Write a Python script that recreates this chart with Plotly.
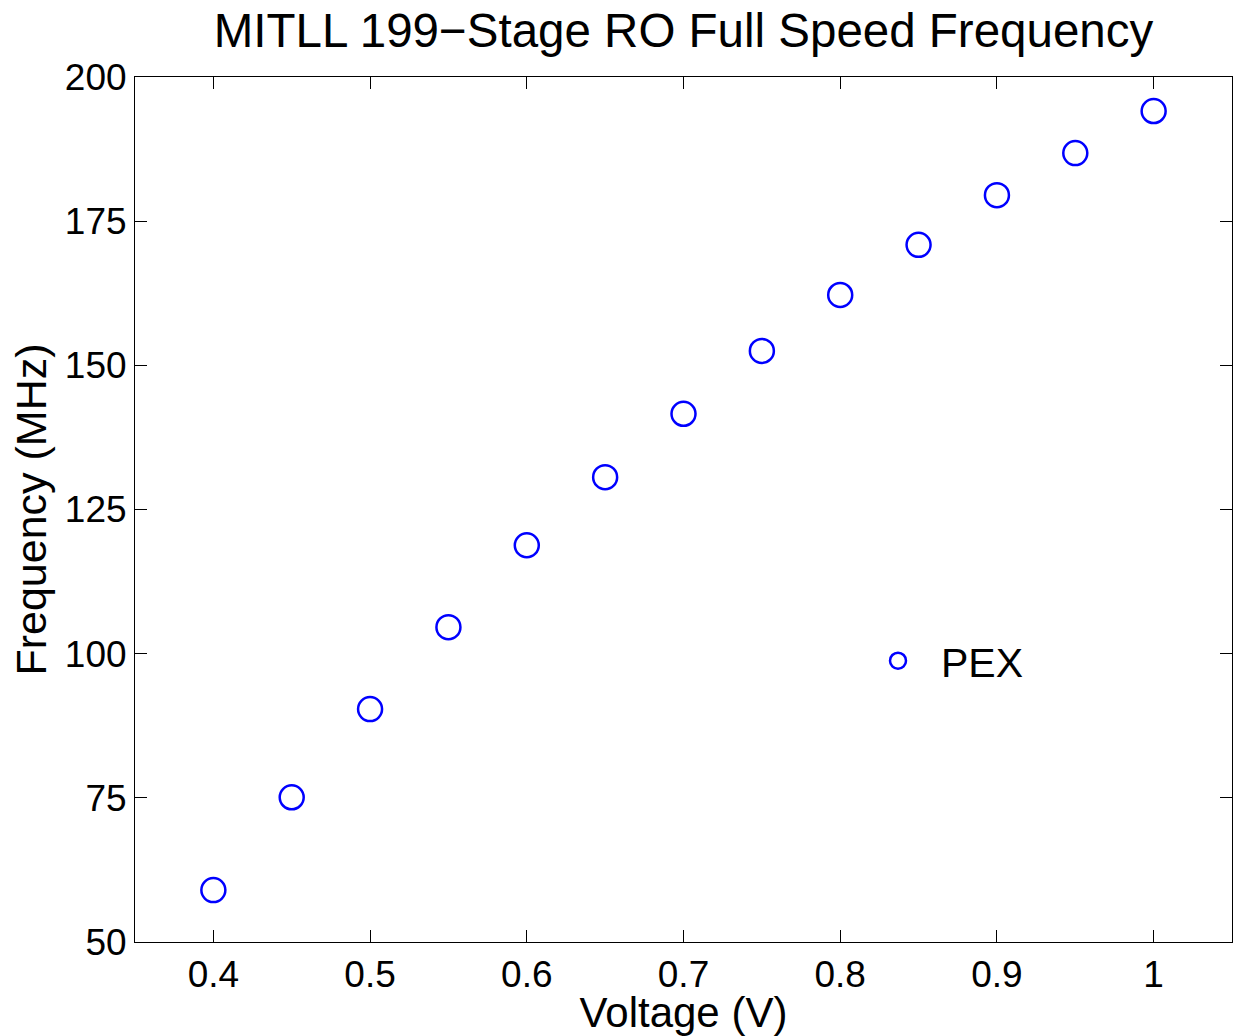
import plotly.graph_objects as go

voltage = [0.4, 0.45, 0.5, 0.55, 0.6, 0.65, 0.7, 0.75, 0.8, 0.85, 0.9, 0.95, 1.0]
freq_pex = [59.0, 75.1, 90.4, 104.6, 118.8, 130.6, 141.6, 152.5, 162.2, 170.9, 179.5, 186.8, 194.1]
x_ticks = [0.4, 0.5, 0.6, 0.7, 0.8, 0.9, 1.0]
x_ticktext = ["0.4", "0.5", "0.6", "0.7", "0.8", "0.9", "1"]
y_ticks = [50, 75, 100, 125, 150, 175, 200]

FONT = "Liberation Sans, Arial, Helvetica, sans-serif"

fig = go.Figure()
fig.add_trace(go.Scatter(
    x=voltage, y=freq_pex, mode="markers", name="PEX",
    marker=dict(symbol="circle-open", size=24, color="#0000ff",
                line=dict(width=2.5, color="#0000ff")),
))

axis_common = dict(
    showgrid=False, zeroline=False, showline=True, linecolor="black",
    linewidth=1, mirror="ticks", ticks="inside", ticklen=12,
    tickcolor="black", tickwidth=1,
    tickfont=dict(family=FONT, size=37, color="black"),
)

fig.update_layout(
    width=1238, height=1036,
    margin=dict(l=135, r=6, t=77, b=94),
    paper_bgcolor="white", plot_bgcolor="white",
    title=dict(text="MITLL 199\u2212Stage RO Full Speed Frequency",
               x=(135 + 1232) / 2 / 1238, xanchor="center",
               y=1 - 30 / 1036, yanchor="middle",
               font=dict(family=FONT, size=47.5, color="black")),
    xaxis=dict(range=[0.35, 1.05], tickvals=x_ticks, ticktext=x_ticktext,
               title=dict(text="Voltage (V)", standoff=0,
                          font=dict(family=FONT, size=42, color="black")),
               **axis_common),
    yaxis=dict(range=[50, 200], tickvals=y_ticks,
               title=dict(text="Frequency (MHz)", standoff=4,
                          font=dict(family=FONT, size=43, color="black")),
               **axis_common),
    legend=dict(x=(855 - 135) / 1097, y=(942 - 661) / 865,
                xanchor="left", yanchor="middle",
                bgcolor="rgba(0,0,0,0)", borderwidth=0,
                itemwidth=76,
                font=dict(family=FONT, size=41, color="black")),
    showlegend=True,
)

fig.write_html("out.html")
